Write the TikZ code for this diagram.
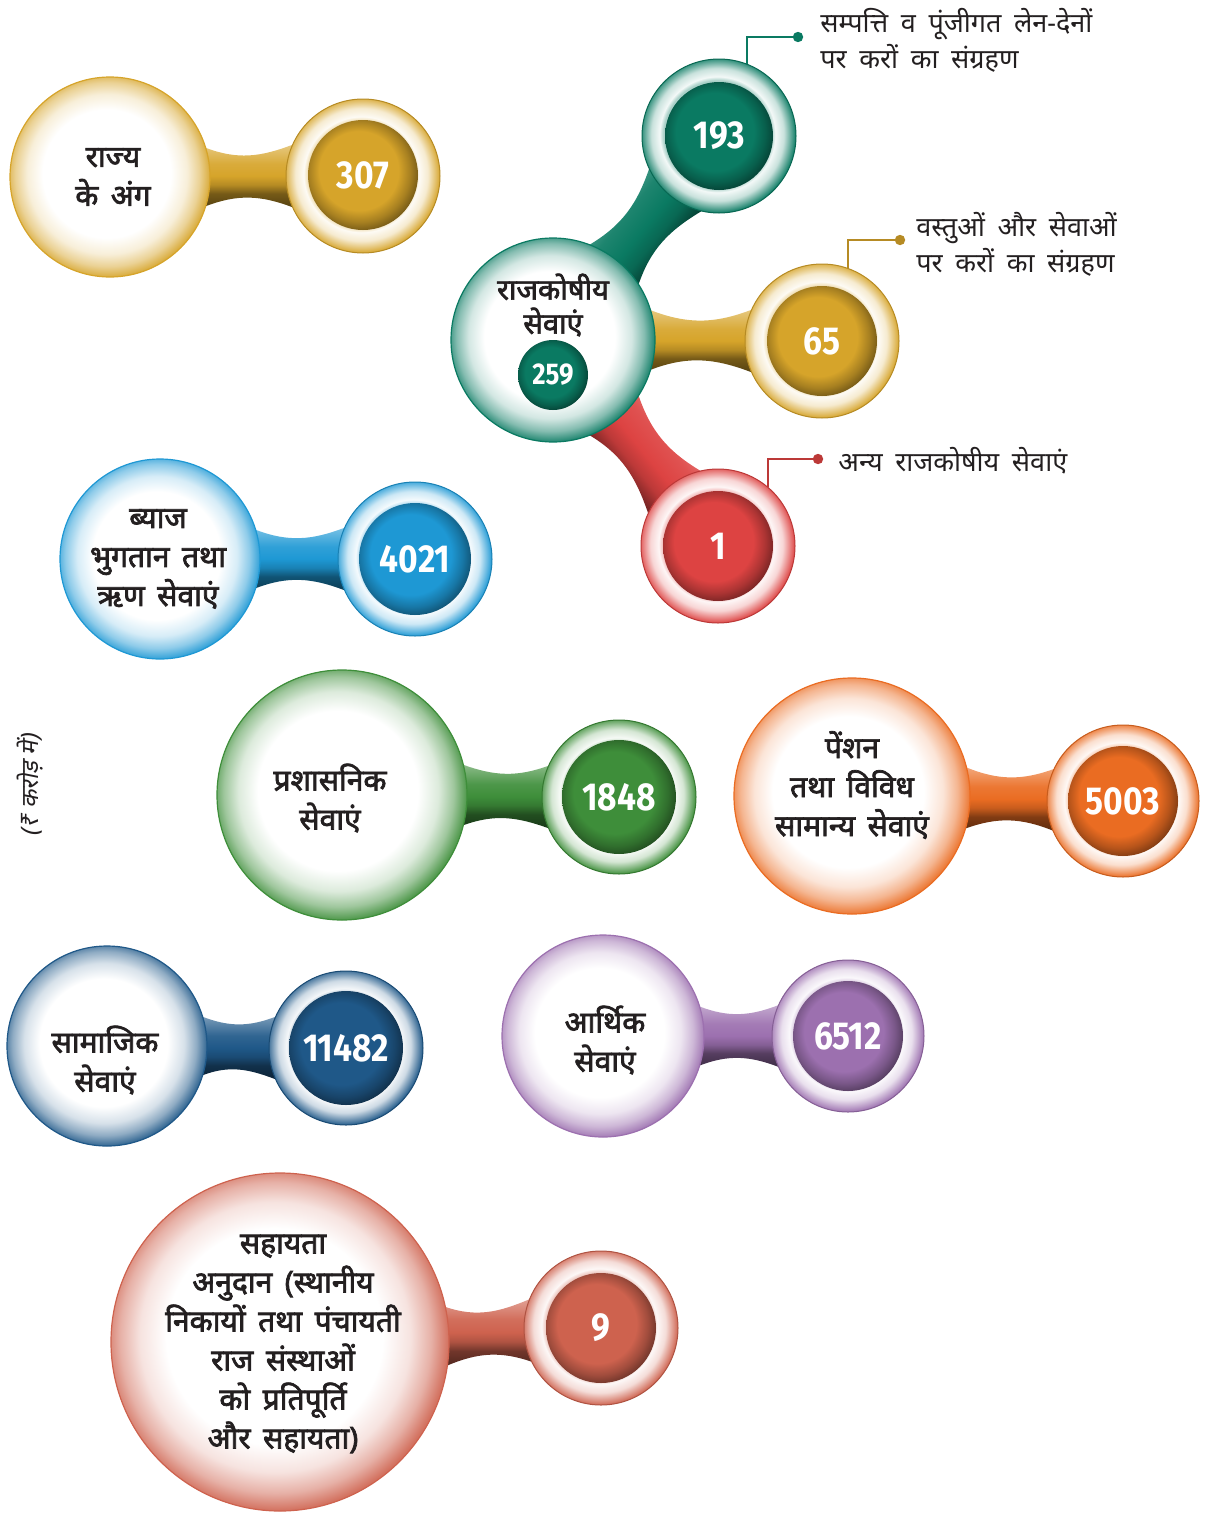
\documentclass[tikz,border=0pt]{standalone}
\usepackage{fontspec}
\usetikzlibrary{backgrounds}
\newfontfamily\hin[Script=Devanagari,WordSpace=1.8]{Noto Sans}
\newfontfamily\hinb[Script=Devanagari,FakeBold=2.4,WordSpace=1.6]{Noto Sans}
\newfontfamily\hinsl[Script=Devanagari,FakeSlant=0.2]{Noto Sans}
\newfontfamily\numf[FakeStretch=0.86]{Fira Sans}
\definecolor{ink}{RGB}{35,31,32}
\definecolor{cGold}{RGB}{214,164,42}
\definecolor{cTeal}{RGB}{10,122,98}
\definecolor{cRed}{RGB}{221,67,66}
\definecolor{cBlue}{RGB}{30,152,212}
\definecolor{cGreen}{RGB}{62,142,58}
\definecolor{cOrange}{RGB}{234,108,34}
\definecolor{cNavy}{RGB}{31,88,136}
\definecolor{cPurple}{RGB}{156,112,175}
\definecolor{cBrick}{RGB}{206,98,78}
% shadings: the path's bounding box spans 25bp..75bp
\newcommand\mkshades[1]{%
\pgfdeclareradialshading{big#1}{\pgfpoint{-1.2bp}{1.2bp}}{color(0bp)=(white); color(16bp)=(white); color(20bp)=(#1!18!white); color(23bp)=(#1!50!white); color(25.5bp)=(#1!90!white); color(50bp)=(#1)}%
\pgfdeclareradialshading{ring#1}{\pgfpoint{-0.8bp}{0.8bp}}{color(0bp)=(white); color(17.5bp)=(#1!35!white); color(18.8bp)=(#1!5!white); color(21.5bp)=(#1!22!white); color(24bp)=(#1!70!white); color(25.5bp)=(#1); color(50bp)=(#1)}%
\pgfdeclareradialshading{disk#1}{\pgfpoint{-3bp}{3bp}}{color(0bp)=(#1); color(18bp)=(#1); color(23bp)=(#1!78!black); color(27bp)=(#1!55!black); color(50bp)=(#1!45!black)}%
\pgfdeclareverticalshading{neck#1}{100bp}{color(0bp)=(#1!40!black); color(25bp)=(#1!40!black); color(36bp)=(#1!55!black); color(43bp)=(#1!85!black); color(50bp)=(#1); color(60bp)=(#1!92!white); color(68bp)=(#1!75!white); color(75bp)=(#1!60!white); color(100bp)=(#1!60!white)}%
}
\mkshades{cGold}\mkshades{cTeal}\mkshades{cRed}\mkshades{cBlue}\mkshades{cGreen}
\mkshades{cOrange}\mkshades{cNavy}\mkshades{cPurple}\mkshades{cBrick}
% neck between big node #1 and small node #2, axis angle #3, half-spread #4 (big) #5 (small), bend #6, style #7
\newcommand\neck[7]{%
 \pgfmathtruncatemacro\nA{#3+#4}\pgfmathtruncatemacro\nB{#3-#4}%
 \pgfmathtruncatemacro\nC{#3+180-#5}\pgfmathtruncatemacro\nD{#3+180+#5}%
 \pgfmathtruncatemacro\oA{#3-#6}\pgfmathtruncatemacro\iA{#3+180+#6}%
 \pgfmathtruncatemacro\oB{#3+180-#6}\pgfmathtruncatemacro\iB{#3+#6}%
 \path[#7] (#1.\nA) to[out=\oA,in=\iA] (#2.\nC) -- (#2.\nD) to[out=\oB,in=\iB] (#1.\nB) -- cycle;
}
\begin{document}
\begin{tikzpicture}[x=0.5pt,y=0.5pt,
 bigc/.style={circle,inner sep=0pt,outer sep=0pt,draw=#1,line width=0.6pt,shade,shading=big#1},
 ringc/.style={circle,inner sep=0pt,outer sep=0pt,draw=#1!85!black,line width=0.5pt,shade,shading=ring#1},
 diskc/.style={circle,inner sep=0pt,outer sep=0pt,shade,shading=disk#1,text=white,font=\numf\bfseries\fontsize{19.5}{20}\selectfont},
 lab/.style={align=center,text=ink,font=\hinb\fontsize{15}{19.5}\selectfont,inner sep=0pt},
 side/.style={align=left,anchor=west,text=ink,font=\hin\fontsize{13.5}{18}\selectfont,inner sep=0pt},
 ptr/.style={draw=#1,line width=1pt},
 nk/.style={shade,shading=neck#1},
]
\useasboundingbox (0,0) rectangle (1206,-1515);

% राज्य के अंग
\node[bigc=cGold,minimum size=100pt] (rajya) at (110,-177) {};
\node[lab] (rajyaT) at (113,-177) {राज्य\\के अंग};
\node[ringc=cGold,minimum size=77pt] (rajyaR) at (363,-176) {};
\node[diskc=cGold,minimum size=55pt] (rajyaD) at (363,-175) {307};

% राजकोषीय सेवाएं
\node[bigc=cTeal,minimum size=102pt] (fisc) at (553,-340) {};
\node[lab,font=\hinb\fontsize{14.5}{17}\selectfont] (fiscT) at (553,-305) {राजकोषीय\\सेवाएं};
\node[diskc=cTeal,minimum size=35pt,font=\numf\bfseries\fontsize{15}{16}\selectfont] (fiscD) at (553,-375) {259};
\node[ringc=cTeal,minimum size=77pt] (tR) at (719,-136) {};
\node[diskc=cTeal,minimum size=54pt] (tD) at (719,-136) {193};
\node[ringc=cGold,minimum size=77pt] (gR) at (822,-341) {};
\node[diskc=cGold,minimum size=55pt] (gD) at (822,-341) {65};
\node[ringc=cRed,minimum size=77pt] (rR) at (718,-546) {};
\node[diskc=cRed,minimum size=55pt] (rD) at (718,-546) {1};

\coordinate (tP) at (798,-37);
\coordinate (gP) at (900,-240);
\coordinate (rP) at (818,-459);
\draw[ptr=cTeal] (tP) -| (tR.69);
\fill[cTeal] (tP) circle (2.6pt);
\draw[ptr=cGold!85!black] (gP) -| (gR.70);
\fill[cGold!85!black] (gP) circle (2.6pt);
\draw[ptr=cRed!85!black] (rP) -| (rR.50);
\fill[cRed!85!black] (rP) circle (2.6pt);
\node[side] (tL) at (820,-40) {सम्पत्ति व पूंजीगत लेन-देनों\\पर करों का संग्रहण};
\node[side] (gL) at (916,-244) {वस्तुओं और सेवाओं\\पर करों का संग्रहण};
\node[side] (rL) at (838,-461) {अन्य राजकोषीय सेवाएं};

% ब्याज
\node[bigc=cBlue,minimum size=100pt] (byaj) at (160,-559) {};
\node[lab] (byajT) at (158,-559) {ब्याज\\भुगतान तथा\\ऋण सेवाएं};
\node[ringc=cBlue,minimum size=77pt] (byajR) at (415,-559) {};
\node[diskc=cBlue,minimum size=56pt] (byajD) at (415,-559) {4021};

% प्रशासनिक
\node[bigc=cGreen,minimum size=125pt] (pras) at (342,-795) {};
\node[lab] (prasT) at (330,-798) {प्रशासनिक\\सेवाएं};
\node[ringc=cGreen,minimum size=77pt] (prasR) at (619,-797) {};
\node[diskc=cGreen,minimum size=57pt] (prasD) at (619,-797) {1848};

% पेंशन
\node[bigc=cOrange,minimum size=118pt] (pens) at (852,-796) {};
\node[lab] (pensT) at (852,-785) {पेंशन\\तथा विविध\\सामान्य सेवाएं};
\node[ringc=cOrange,minimum size=76pt] (pensR) at (1123,-801) {};
\node[diskc=cOrange,minimum size=55pt] (pensD) at (1123,-801) {5003};

% सामाजिक
\node[bigc=cNavy,minimum size=100pt] (samaj) at (107,-1046) {};
\node[lab] (samajT) at (105,-1060) {सामाजिक\\सेवाएं};
\node[ringc=cNavy,minimum size=77pt] (samajR) at (346,-1048) {};
\node[diskc=cNavy,minimum size=57pt] (samajD) at (346,-1048) {11482};

% आर्थिक
\node[bigc=cPurple,minimum size=101pt] (arth) at (603,-1036) {};
\node[lab] (arthT) at (605,-1040) {आर्थिक\\सेवाएं};
\node[ringc=cPurple,minimum size=76pt] (arthR) at (848,-1036) {};
\node[diskc=cPurple,minimum size=55pt] (arthD) at (848,-1036) {6512};

% सहायता अनुदान
\node[bigc=cBrick,minimum size=169pt] (sahay) at (280,-1342) {};
\node[lab] (sahayT) at (283,-1344) {सहायता\\अनुदान (स्थानीय\\निकायों तथा पंचायती\\राज संस्थाओं\\को प्रतिपूर्ति\\और सहायता)};
\node[ringc=cBrick,minimum size=77pt] (sahayR) at (601,-1328) {};
\node[diskc=cBrick,minimum size=55pt] (sahayD) at (601,-1328) {9};

% unit
\node[rotate=90,text=ink,font=\hinsl\fontsize{12}{14}\selectfont,inner sep=0pt] (unit) at (30,-785) {(₹ करोड़ में)};

\begin{pgfonlayer}{background}
 \neck{rajya}{rajyaR}{0}{17}{24}{21}{nk=cGold}
 \neck{fisc}{tR}{51}{18}{26}{20}{nk=cTeal,shading angle=51}
 \neck{fisc}{gR}{0}{17}{24}{21}{nk=cGold}
 \neck{fisc}{rR}{-51}{18}{26}{20}{nk=cRed,shading angle=-51}
 \neck{byaj}{byajR}{0}{17}{24}{21}{nk=cBlue}
 \neck{pras}{prasR}{0}{14}{24}{20}{nk=cGreen}
 \neck{pens}{pensR}{-1}{15}{24}{21}{nk=cOrange}
 \neck{samaj}{samajR}{0}{17}{24}{21}{nk=cNavy}
 \neck{arth}{arthR}{0}{17}{24}{21}{nk=cPurple}
 \neck{sahay}{sahayR}{2}{10}{24}{21}{nk=cBrick}
\end{pgfonlayer}
\end{tikzpicture}
\end{document}
